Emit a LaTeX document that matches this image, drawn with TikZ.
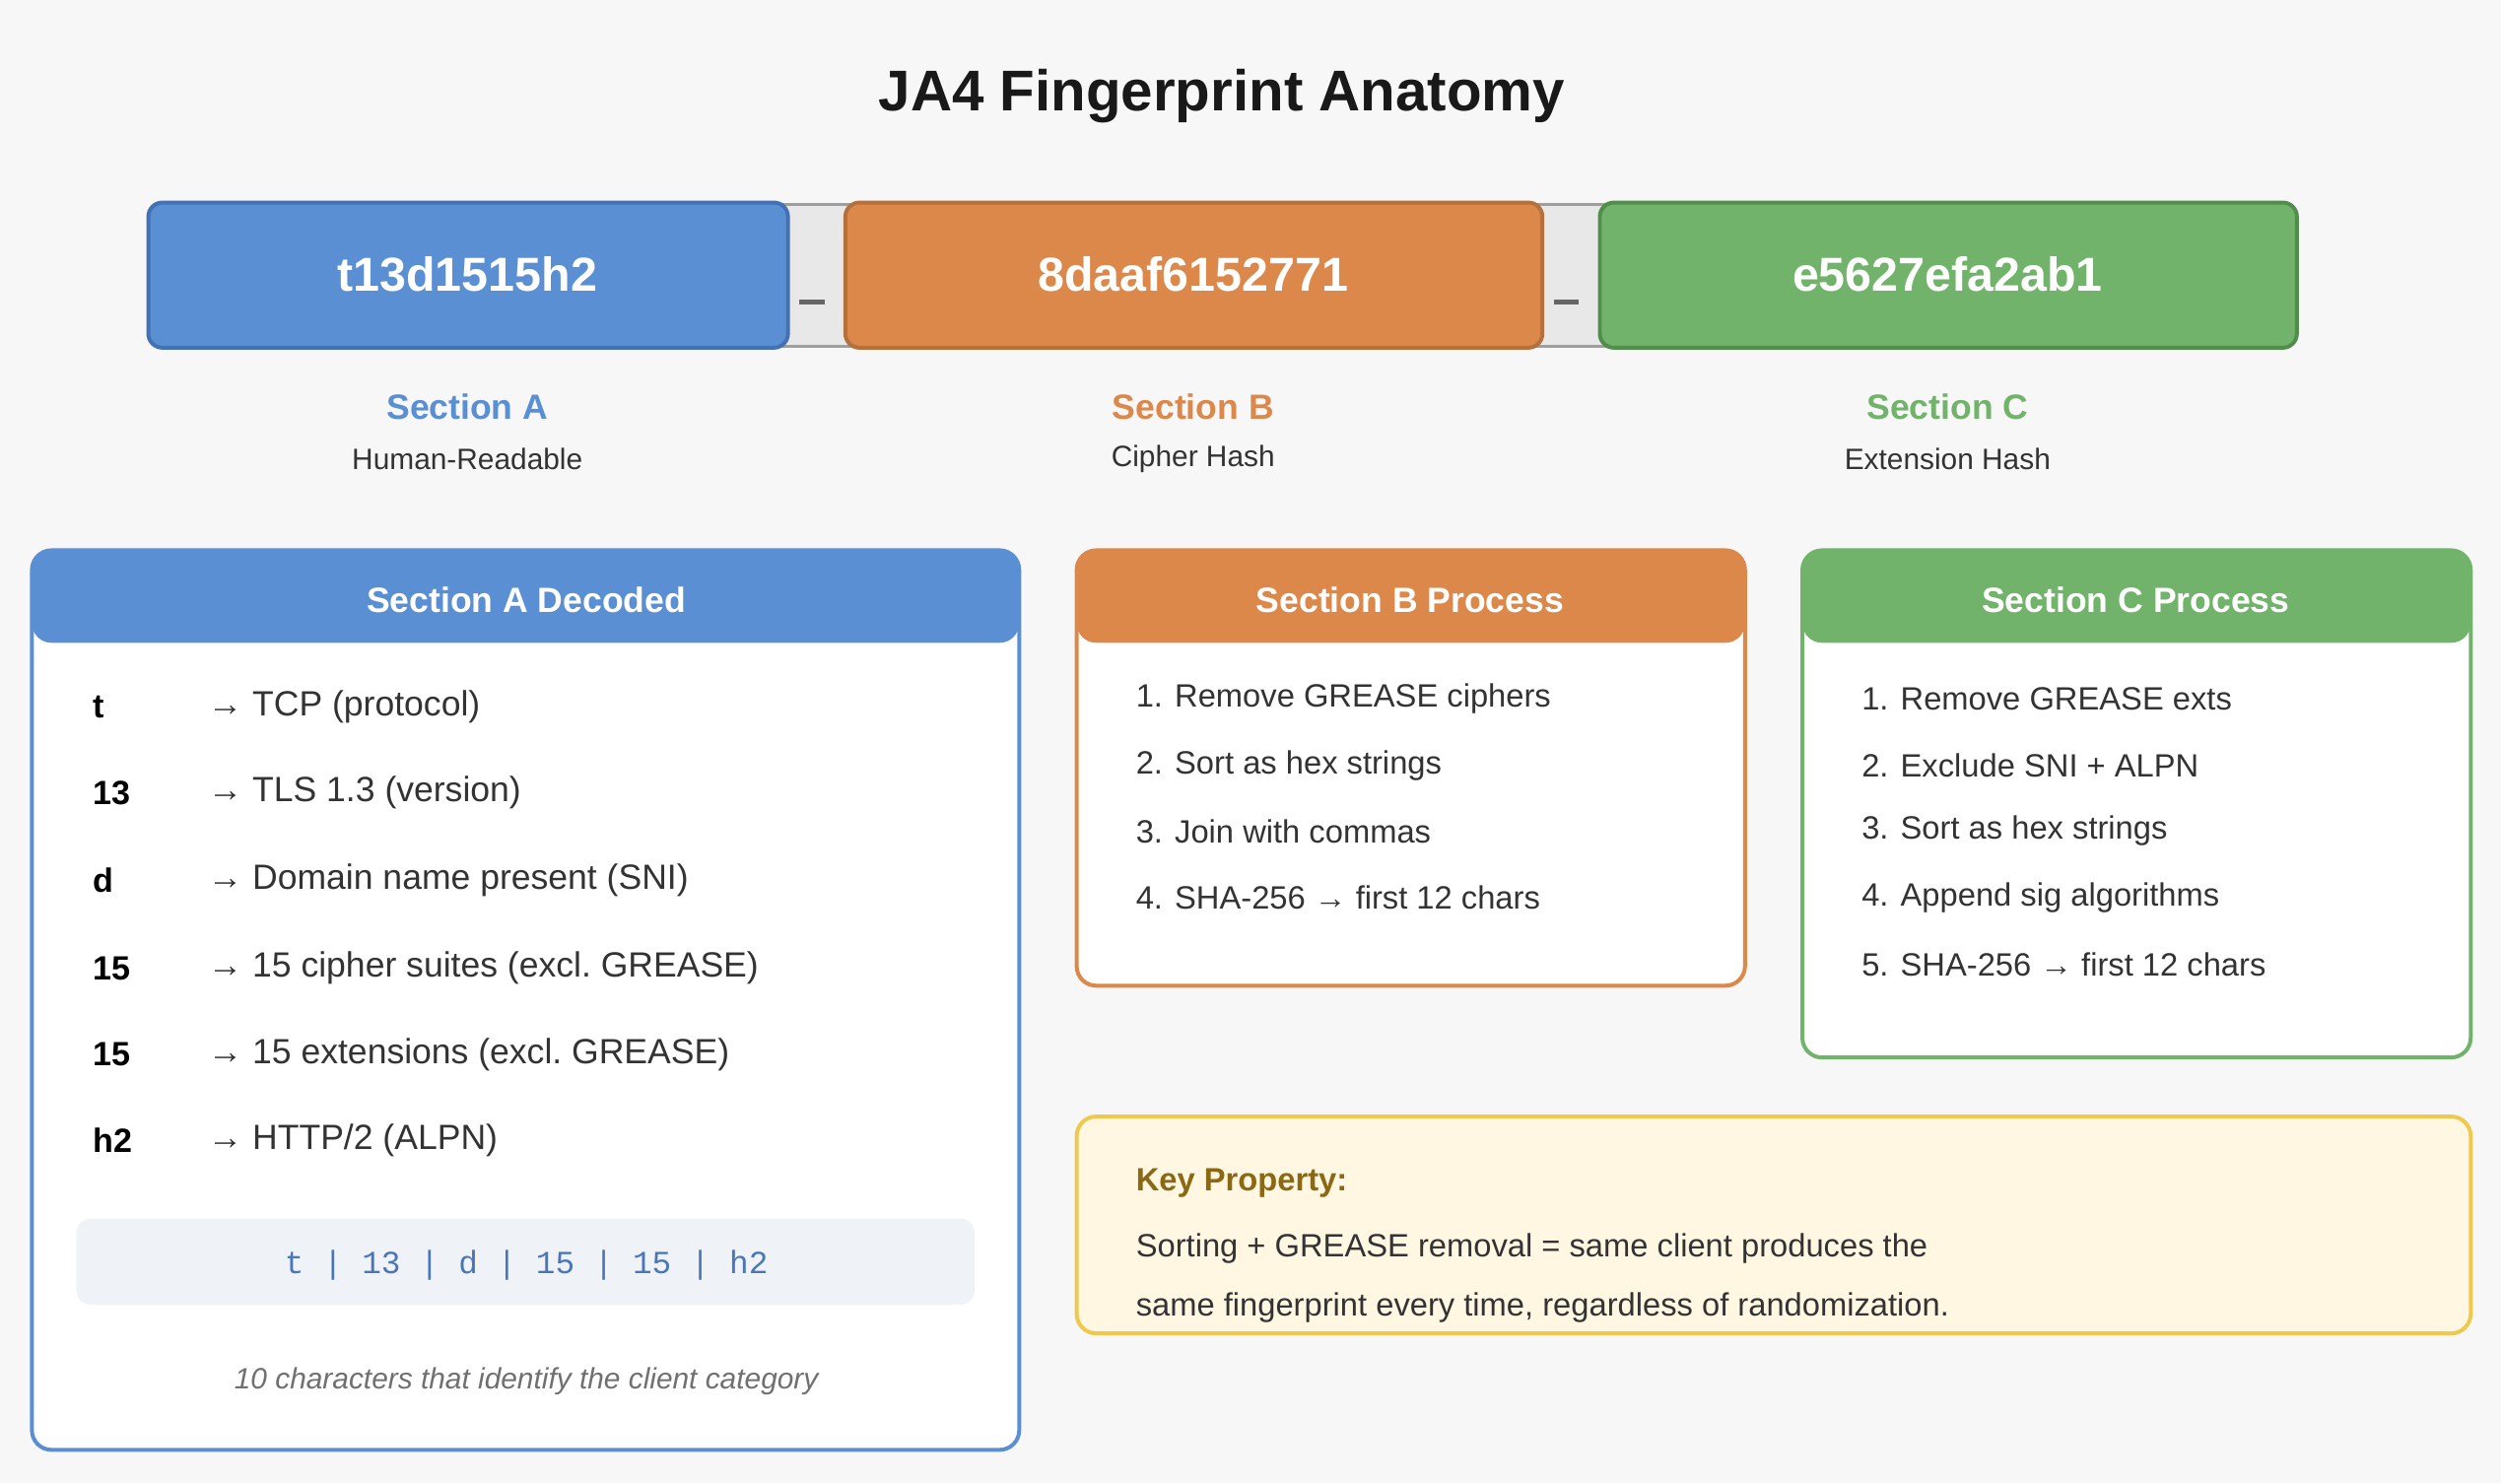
\documentclass[tikz,border=0pt]{standalone}
\usepackage{fontspec}
\setmainfont{Liberation Sans}
\setmonofont{Liberation Mono}
\usetikzlibrary{positioning,calc}
\definecolor{jablue}{HTML}{5B8FD4}
\definecolor{jablueD}{HTML}{4371B3}
\definecolor{jaorange}{HTML}{DC884A}
\definecolor{jaorangeD}{HTML}{B5713C}
\definecolor{jagreen}{HTML}{71B36B}
\definecolor{jagreenD}{HTML}{538D4E}
\definecolor{jatext}{HTML}{333333}
\definecolor{jagray}{HTML}{707070}
\definecolor{jakeyfill}{HTML}{FFF7E2}
\definecolor{jakeyline}{HTML}{EEC94E}
\definecolor{jakeytext}{HTML}{8B6914}
\definecolor{jamono}{HTML}{EFF3F8}
\definecolor{jamonotext}{HTML}{4A76B8}
\tikzset{
  seclbl/.style={font=\fontsize{12.5}{15}\selectfont\bfseries,text=#1},
  secsub/.style={font=\fontsize{10.5}{13}\selectfont,text=jatext},
  hdr/.style={font=\fontsize{12.5}{15}\selectfont\bfseries,text=white},
  keyf/.style={font=\fontsize{12}{14}\selectfont\bfseries,text=black,anchor=west},
  valf/.style={font=\fontsize{12.5}{15}\selectfont,text=jatext,anchor=west},
  stepf/.style={font=\fontsize{11.5}{14}\selectfont,text=jatext,anchor=west}
}
\begin{document}
\begin{tikzpicture}[x=0.02cm,y=-0.02cm]
  \fill[white!97!black] (0,0) rectangle (1568,930);

  % ---- Title -------------------------------------------------
  \node[font=\fontsize{20.5}{24}\selectfont\bfseries,text=black!90] (title) at (766,60)
    {JA4 Fingerprint Anatomy};

  % ---- Fingerprint bar ----------------------------------------
  \draw[fill=black!9,draw=black!38,line width=1pt] (100,128) rectangle (1435,217);
  \filldraw[fill=jablue,draw=jablueD,line width=1.4pt,rounded corners=5pt] (93,127) rectangle (494,218);
  \filldraw[fill=jaorange,draw=jaorangeD,line width=1.4pt,rounded corners=5pt] (530,127) rectangle (967,218);
  \filldraw[fill=jagreen,draw=jagreenD,line width=1.4pt,rounded corners=5pt] (1003,127) rectangle (1440,218);
  \node[font=\fontsize{17}{20}\selectfont\bfseries,text=white] (segA) at (293,172) {t13d1515h2};
  \node[font=\fontsize{17}{20}\selectfont\bfseries,text=white] (segB) at (748,172) {8daaf6152771};
  \node[font=\fontsize{17}{20}\selectfont\bfseries,text=white] (segC) at (1221,172) {e5627efa2ab1};
  \fill[black!60] (501,188) rectangle (517,191);
  \fill[black!60] (974,188) rectangle (990,191);

  % section labels
  \node[seclbl=jablue] (labA) at (293,255) {Section A};
  \node[secsub] (subA) at (293,288) {Human-Readable};
  \node[seclbl=jaorange] (labB) at (748,255) {Section B};
  \node[secsub] (subB) at (748,288) {Cipher Hash};
  \node[seclbl=jagreen] (labC) at (1221,255) {Section C};
  \node[secsub] (subC) at (1221,288) {Extension Hash};

  % ---- Section A panel ----------------------------------------
  \filldraw[fill=white,draw=jablue,line width=1.4pt,rounded corners=7pt] (20,345) rectangle (639,909);
  \fill[jablue,rounded corners=7pt] (20,345) rectangle (639,403);
  \node[hdr] (hdrA) at (330,376) {Section A Decoded};
  \foreach \k/\v/\y in {t/{TCP (protocol)}/443, 13/{TLS 1.3 (version)}/497,
      d/{Domain name present (SNI)}/552, 15/{15 cipher suites (excl.\ GREASE)}/607,
      15/{15 extensions (excl.\ GREASE)}/661, h2/{HTTP/2 (ALPN)}/715}{
    \node[keyf] at (52,\y) {\k};
    \node[valf] at (124,\y) {→ \v};
  }
  \fill[jamono,rounded corners=5pt] (48,764) rectangle (611,818);
  \node[font=\fontsize{11.5}{14}\selectfont\ttfamily,text=jamonotext] (mono) at (330,793)
    {t | 13 | d | 15 | 15 | h2};
  \node[font=\fontsize{10.5}{13}\selectfont\itshape,text=jagray] (note) at (330,866)
    {10 characters that identify the client category};

  % ---- Section B panel ----------------------------------------
  \filldraw[fill=white,draw=jaorange,line width=1.4pt,rounded corners=7pt] (675,345) rectangle (1094,618);
  \fill[jaorange,rounded corners=7pt] (675,345) rectangle (1094,403);
  \node[hdr] (hdrB) at (884,376) {Section B Process};
  \foreach \s/\y in {{1. Remove GREASE ciphers}/438, {2. Sort as hex strings}/480,
      {3. Join with commas}/521, {4. SHA-256 → first 12 chars}/563}{
    \node[stepf] at (706,\y) {\s};
  }

  % ---- Section C panel ----------------------------------------
  \filldraw[fill=white,draw=jagreen,line width=1.4pt,rounded corners=7pt] (1130,345) rectangle (1549,663);
  \fill[jagreen,rounded corners=7pt] (1130,345) rectangle (1549,403);
  \node[hdr] (hdrC) at (1339,376) {Section C Process};
  \foreach \s/\y in {{1. Remove GREASE exts}/438, {2. Exclude SNI + ALPN}/480,
      {3. Sort as hex strings}/521, {4. Append sig algorithms}/563, {5. SHA-256 → first 12 chars}/605}{
    \node[stepf] at (1161,\y) {\s};
  }

  % ---- Key property -------------------------------------------
  \filldraw[fill=jakeyfill,draw=jakeyline,line width=1.4pt,rounded corners=7pt] (675,700) rectangle (1549,836);
  \node[font=\fontsize{11.5}{14}\selectfont\bfseries,text=jakeytext,anchor=west] (keyT) at (706,742) {Key Property:};
  \node[stepf] (key1) at (706,783) {Sorting + GREASE removal = same client produces the};
  \node[stepf] (key2) at (706,820) {same fingerprint every time, regardless of randomization.};
\end{tikzpicture}
\end{document}
